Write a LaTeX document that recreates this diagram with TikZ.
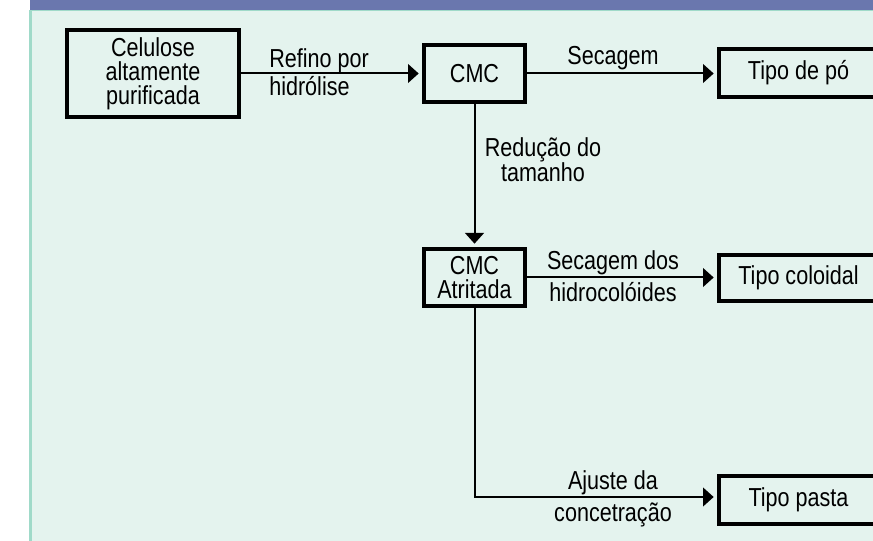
\documentclass[tikz,border=0pt]{standalone}
\usepackage{fontspec}
\setmainfont[FakeStretch=0.83]{Liberation Sans}
\usetikzlibrary{arrows.meta}
\definecolor{panel}{HTML}{E4F3EE}
\definecolor{edgeteal}{HTML}{A0DAC9}
\definecolor{banner}{HTML}{6A77AE}
\begin{document}
\begin{tikzpicture}[x=0.75pt,y=-0.75pt,
  box/.style={draw, line width=3pt, align=center, inner sep=0pt,
    font=\fontsize{19.5pt}{18pt}\selectfont},
  lbl/.style={align=center, inner sep=0pt},
  arr/.style={line width=1.5pt, -{Triangle[length=8pt,width=14pt]}, shorten >=2.5pt}]
\useasboundingbox (0,0) rectangle (873,541);
\clip (0,0) rectangle (873,541);
% background
\fill[white] (0,0) rectangle (873,541);
\fill[panel] (30,0) rectangle (873,541);
\fill[edgeteal] (29,10) rectangle (31.5,541);
\fill[edgeteal] (29,10) rectangle (873,11.5);
\fill[banner] (30,0) rectangle (873,10);
% boxes
\node[box, minimum width=129pt, minimum height=65.25pt] (cel) at (153,73.5) {Celulose\\altamente\\purificada};
\node[box, minimum width=75.75pt, minimum height=42.75pt] (cmc) at (474.5,73.5) {CMC};
\node[box, minimum width=75.75pt, minimum height=42.75pt] (atr) at (474.5,277.5) {CMC\\Atritada};
\node[box, minimum width=119.25pt, minimum height=36pt] (po) at (798.5,73) {Tipo de pó};
\node[box, minimum width=119.25pt, minimum height=34.5pt] (col) at (798.5,278) {Tipo coloidal};
\node[box, minimum width=119.25pt, minimum height=36pt] (pasta) at (798.5,500) {Tipo pasta};
% connectors
\draw[arr] (cel) -- (cmc);
\draw[arr] (cmc.east) -- (cmc.east -| po.west);
\draw[arr] (cmc) -- (atr);
\draw[arr] (atr.east) -- (atr.east -| col.west);
\draw[arr] (atr.south) |- ([yshift=2.25pt]pasta.west);
% labels
\node[lbl, anchor=west, align=left, font=\fontsize{19.5pt}{21pt}\selectfont] (l1) at (269,72) {Refino por\\hidrólise};
\node[lbl, font=\fontsize{19.5pt}{19pt}\selectfont] (l2) at (613,58) {Secagem};
\node[lbl, font=\fontsize{19.5pt}{18.75pt}\selectfont] (l3) at (543,160) {Redução do\\tamanho};
\node[lbl, font=\fontsize{19.5pt}{24pt}\selectfont] (l4) at (613,276) {Secagem dos\\hidrocolóides};
\node[lbl, font=\fontsize{19.5pt}{24pt}\selectfont] (l5) at (613,499) {Ajuste da\\concetração};
\end{tikzpicture}
\end{document}
